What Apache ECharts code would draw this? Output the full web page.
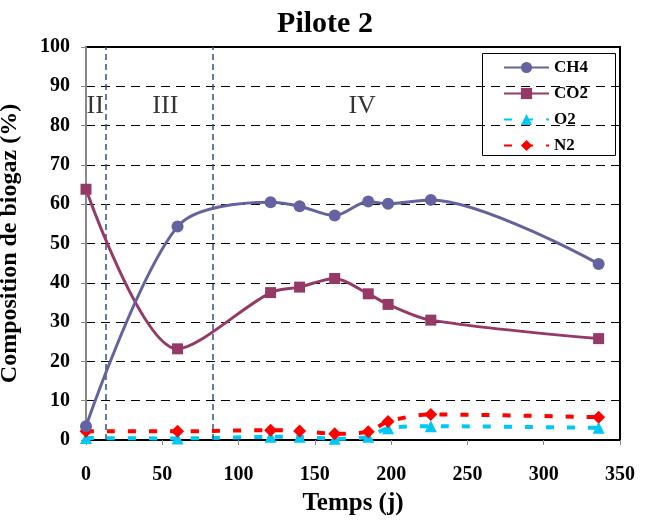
<!DOCTYPE html>
<html><head><meta charset="utf-8">
<script src="https://cdn.jsdelivr.net/npm/echarts@6/dist/echarts.min.js"></script>
<style>html,body{margin:0;padding:0;background:#fff}#c{width:650px;height:521px}</style>
</head><body><div id="c"></div>
<script>
const days = [0, 60, 121, 140, 163, 185, 198, 226, 336];
const ch4 = [3.5, 54.3, 60.5, 59.5, 57.1, 60.7, 60.1, 61.1, 44.8];
const co2 = [63.8, 23.2, 37.5, 38.9, 41.1, 37.2, 34.5, 30.5, 25.8];
const o2  = [0.5, 0.4, 0.8, 0.8, 0.3, 0.8, 3.0, 3.5, 3.1];
const n2  = [2.2, 2.2, 2.5, 2.3, 1.6, 2.1, 4.7, 6.5, 5.8];
const phaseLines = [13, 83];
const phaseLabels = [['II', 6, 85], ['III', 52, 85], ['IV', 181, 85]];
const xTicks = {min: 0, max: 350, interval: 50};
const yTicks = {min: 0, max: 100, interval: 10};

const F = 'Liberation Serif';
const pair = a => days.map((d, i) => [d, a[i]]);
const chart = echarts.init(document.getElementById('c'));
chart.setOption({
  animation: false,
  backgroundColor: '#fff',
  title: {text: 'Pilote 2', left: 'center', top: 4,
    textStyle: {fontFamily: F, fontWeight: 'bold', fontSize: 30, color: '#000'}},
  grid: {left: 86, right: 30, top: 47, bottom: 81, containLabel: false, outerBoundsMode: 'none',
    show: true, borderColor: '#000', borderWidth: 2, backgroundColor: 'transparent'},
  graphic: [{type: 'rect', left: 482, top: 53, z: 0, silent: true,
    shape: {width: 133, height: 102}, style: {fill: '#fff', stroke: '#000', lineWidth: 1}}],
  legend: {
    orient: 'vertical', left: 503, top: 59, z: 10,
    padding: 0, itemGap: 9, itemWidth: 45, itemHeight: 14,
    textStyle: {fontFamily: F, fontWeight: 'bold', fontSize: 17, color: '#000', lineHeight: 17},
    data: ['CH4', 'CO2', 'O2', 'N2']
  },
  xAxis: {
    type: 'value', min: xTicks.min, max: xTicks.max, interval: xTicks.interval,
    name: 'Temps (j)', nameLocation: 'middle', nameGap: 51,
    nameTextStyle: {fontFamily: F, fontWeight: 'bold', fontSize: 25, color: '#000'},
    axisLine: {lineStyle: {color: '#000', width: 2}},
    axisTick: {show: true, length: 5, lineStyle: {color: '#888'}},
    axisLabel: {fontFamily: F, fontWeight: 'bold', fontSize: 20, color: '#000', margin: 25},
    splitLine: {show: false}
  },
  yAxis: {
    type: 'value', min: yTicks.min, max: yTicks.max, interval: yTicks.interval,
    name: 'Composition de biogaz (%)', nameLocation: 'middle', nameGap: 64, nameMoveOverlap: false,
    nameTextStyle: {fontFamily: F, fontWeight: 'bold', fontSize: 24, color: '#000'},
    axisLine: {show: true, lineStyle: {color: '#888', width: 2}},
    axisTick: {show: true, length: 5, lineStyle: {color: '#888'}},
    axisLabel: {fontFamily: F, fontWeight: 'bold', fontSize: 20, color: '#000', margin: 16},
    splitLine: {show: true, lineStyle: {color: '#000', type: [9, 6], width: 1}}
  },
  series: [
    {name: 'O2', type: 'line', data: pair(o2), smooth: 0.3, symbol: 'triangle', symbolSize: 12,
      itemStyle: {color: '#00c8f5'}, lineStyle: {color: '#00c8f5', width: 4, type: [8, 13]}, z: 3,
      markLine: {silent: true, symbol: 'none', label: {show: false},
        lineStyle: {color: '#2f5583', type: [6, 4], width: 1.5},
        data: phaseLines.map(v => ({xAxis: v}))}},
    {name: 'N2', type: 'line', data: pair(n2), smooth: 0.3, symbol: 'diamond', symbolSize: 13,
      itemStyle: {color: '#ff0000'}, lineStyle: {color: '#ff0000', width: 4, type: [8, 13]}, z: 4},
    {name: 'CO2', type: 'line', data: pair(co2), smooth: 0.3, symbol: 'rect', symbolSize: 11,
      itemStyle: {color: '#953a66'}, lineStyle: {color: '#953a66', width: 3}, z: 5},
    {name: 'CH4', type: 'line', data: pair(ch4), smooth: 0.3, symbol: 'circle', symbolSize: 12,
      itemStyle: {color: '#65639f'}, lineStyle: {color: '#65639f', width: 3}, z: 6},
    {name: 'phases', type: 'scatter', symbolSize: 0, silent: true, z: 2,
      data: phaseLabels.map(p => ({value: [p[1], p[2]], label: {formatter: p[0]}})),
      label: {show: true, position: 'inside', fontFamily: F, fontSize: 26, color: '#000'}}
  ]
});
</script></body></html>
